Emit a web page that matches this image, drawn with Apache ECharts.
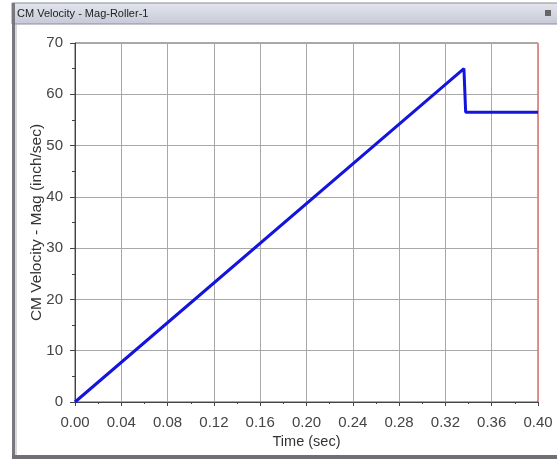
<!DOCTYPE html>
<html><head><meta charset="utf-8">
<script src="https://cdn.jsdelivr.net/npm/echarts@6/dist/echarts.min.js"></script>
<style>html,body{margin:0;padding:0;background:#fff;}#c{width:557px;height:459px;}</style>
</head><body><div id="c"></div>
<script>
const windowTitle = 'CM Velocity - Mag-Roller-1';
const xName = 'Time (sec)';
const yName = 'CM Velocity - Mag (inch/sec)';
const timeValues = [0, 0.336, 0.3375, 0.40];
const velocityValues = [0, 65, 56.5, 56.5];

const chart = echarts.init(document.getElementById('c'), null, {renderer: 'canvas'});
const font = 'Liberation Sans, Arial, sans-serif';
chart.setOption({
  animation: false,
  backgroundColor: '#fff',
  graphic: [
    {type: 'rect', shape: {x: 12, y: 3, width: 560, height: 21}, style: {fill: new echarts.graphic.LinearGradient(0,0,0,1,[{offset:0,color:'#e4e6ee'},{offset:1,color:'#c6c9d6'}]), stroke: '#8a8d98', lineWidth: 1}, z: 10},
    {type: 'text', left: 17, top: 8, style: {text: windowTitle, font: '11px ' + font, fill: '#222'}, z: 11},
    {type: 'rect', shape: {x: 545, y: 10, width: 6, height: 6}, style: {fill: '#666'}, z: 11},
    {type: 'rect', shape: {x: 12, y: 3, width: 3, height: 456}, style: {fill: '#77797f'}, z: 10},
    {type: 'line', shape: {x1: 16, y1: 24, x2: 16, y2: 459}, style: {stroke: '#b0b2b8', lineWidth: 1}, z: 10},
    {type: 'rect', shape: {x: 12, y: 455, width: 560, height: 4}, style: {fill: '#6e7076'}, z: 10}
  ],
  grid: {left: 75, right: 19, top: 43, bottom: 57, show: true, borderColor: '#555', borderWidth: 1},
  xAxis: {
    type: 'value', min: 0, max: 0.4, interval: 0.04,
    name: xName, nameLocation: 'middle', nameGap: 30,
    nameTextStyle: {fontFamily: font, fontSize: 14.5, color: '#333'},
    axisLine: {show: true, onZero: false, lineStyle: {color: '#444'}},
    axisTick: {show: true, length: 4, lineStyle: {color: '#444'}},
    minorTick: {show: true, splitNumber: 2, length: 2, lineStyle: {color: '#444'}},
    axisLabel: {fontFamily: font, fontSize: 15, color: '#444', margin: 13, formatter: v => v.toFixed(2)},
    splitLine: {show: true, lineStyle: {color: '#a8a8a8', width: 1}}
  },
  yAxis: {
    type: 'value', min: 0, max: 70, interval: 10,
    name: yName, nameLocation: 'middle', nameGap: 30, nameRotate: 90, nameMoveOverlap: false,
    nameTextStyle: {fontFamily: font, fontSize: 15.5, color: '#333'},
    axisLine: {show: true, lineStyle: {color: '#444'}},
    axisTick: {show: true, length: 5, lineStyle: {color: '#444'}},
    minorTick: {show: true, splitNumber: 2, length: 3, lineStyle: {color: '#444'}},
    axisLabel: {fontFamily: font, fontSize: 15, color: '#444', margin: 12},
    splitLine: {show: true, lineStyle: {color: '#a8a8a8', width: 1}}
  },
  series: [{
    type: 'line',
    data: timeValues.map((t, i) => [t, velocityValues[i]]),
    showSymbol: false, symbol: 'none',
    lineStyle: {color: '#1414dc', width: 3},
    z: 5,
    markLine: {silent: true, symbol: 'none', label: {show: false},
      lineStyle: {color: '#e08888', type: 'solid', width: 1},
      data: [{xAxis: 0.4}]}
  }]
});
</script></body></html>
